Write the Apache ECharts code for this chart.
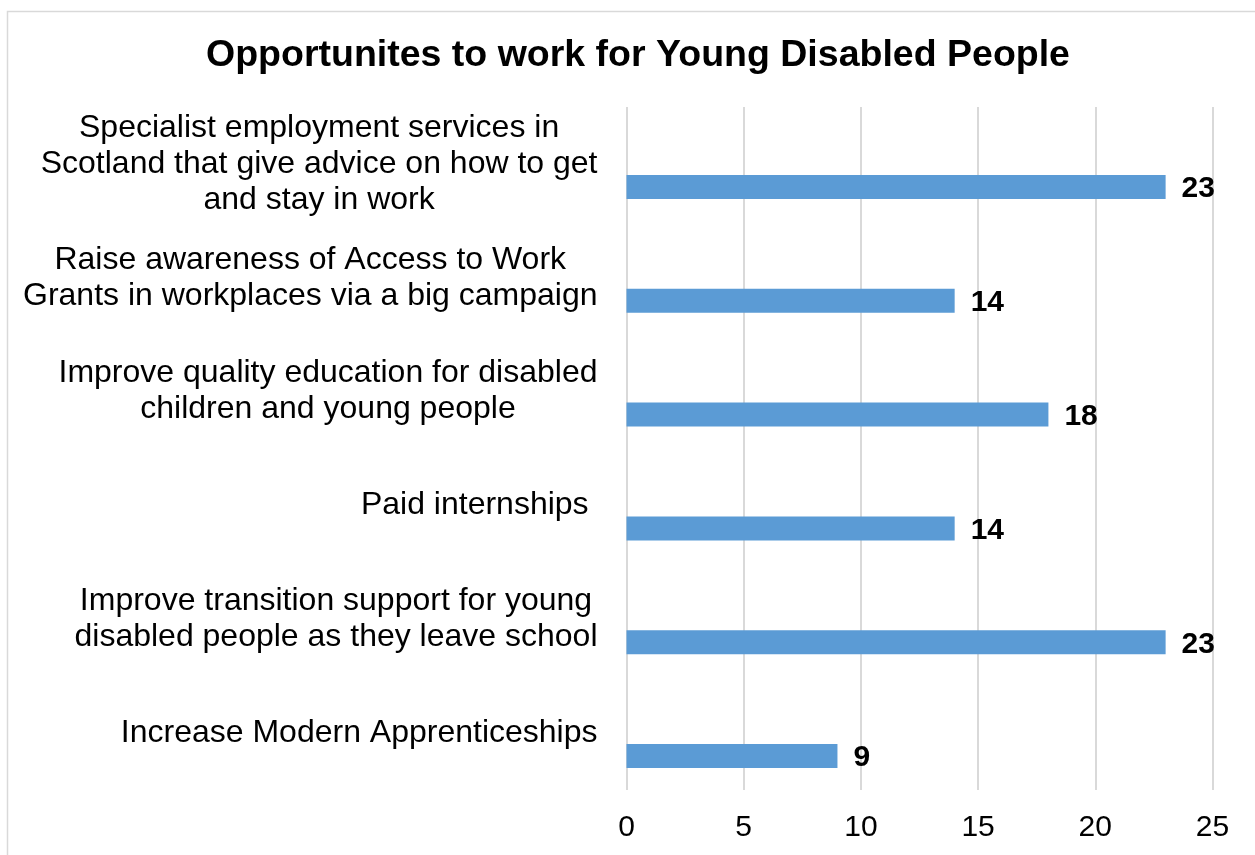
<!DOCTYPE html>
<html>
<head>
<meta charset="utf-8">
<script src="https://cdn.jsdelivr.net/npm/echarts@6/dist/echarts.min.js"></script>
<style>
  html, body { margin: 0; padding: 0; background: #fff; }
  #chart { width: 1255px; height: 855px; }
</style>
</head>
<body>
<div id="chart"></div>
<script>
// Survey options, listed top to bottom
const categories = [
  'Specialist employment services in\nScotland that give advice on how to get\nand stay in work',
  'Raise awareness of Access to Work\nGrants in workplaces via a big campaign',
  'Improve quality education for disabled\nchildren and young people',
  'Paid internships ',
  'Improve transition support for young\ndisabled people as they leave school',
  'Increase Modern Apprenticeships'
];
// Number of votes per option
const votes = [23, 14, 18, 14, 23, 9];
const xTicks = { min: 0, max: 25, interval: 5 };

const FONT = '"Liberation Sans", Arial, sans-serif';

const chart = echarts.init(document.getElementById('chart'), null, { renderer: 'canvas' });

chart.setOption({
  backgroundColor: '#ffffff',
  animation: false,
  title: {
    text: 'Opportunites to work for Young Disabled People',
    left: 633,
    top: 32,
    textAlign: 'center',
    textStyle: { fontFamily: FONT, fontSize: 37.5, fontWeight: 'bold', color: '#000' }
  },
  graphic: [{
    type: 'rect',
    shape: { x: 7.5, y: 11.5, width: 1300, height: 900 },
    style: { fill: 'none', stroke: '#d9d9d9', lineWidth: 1.5 },
    silent: true,
    z: -1
  }],
  grid: { left: 626.5, right: 42.5, top: 107, bottom: 65, containLabel: false },
  xAxis: {
    type: 'value',
    min: xTicks.min,
    max: xTicks.max,
    interval: xTicks.interval,
    axisLine: { show: false },
    axisTick: { show: false },
    splitLine: { show: true, lineStyle: { color: '#d9d9d9', width: 2 } },
    axisLabel: { fontFamily: FONT, fontSize: 30, color: '#000', margin: 23 }
  },
  yAxis: {
    type: 'category',
    inverse: true,
    data: categories,
    axisLine: { show: false },
    axisTick: { show: false },
    splitLine: { show: false },
    axisLabel: {
      margin: 29,
      fontFamily: FONT,
      fontSize: 32,
      lineHeight: 36,
      color: '#000',
      formatter: v => v.split('\n').map(line => '{c|' + line + '}').join('\n'),
      rich: {
        c: { align: 'center', fontFamily: FONT, fontSize: 32, lineHeight: 36, color: '#000' }
      }
    }
  },
  series: [
    {
      // spacer that pushes the visible bars to the lower part of each band
      type: 'bar',
      data: votes,
      barWidth: 24,
      barGap: '92%',
      silent: true,
      itemStyle: { color: 'rgba(0,0,0,0)' },
      label: { show: false }
    },
    {
      name: 'Votes',
      type: 'bar',
      data: votes,
      barWidth: 24,
      itemStyle: { color: '#5b9bd5' },
      label: {
        show: true,
        position: 'right',
        distance: 16,
        offset: [0, 2],
        fontFamily: FONT,
        fontSize: 30,
        fontWeight: 'bold',
        color: '#000'
      }
    }
  ]
});
</script>
</body>
</html>
